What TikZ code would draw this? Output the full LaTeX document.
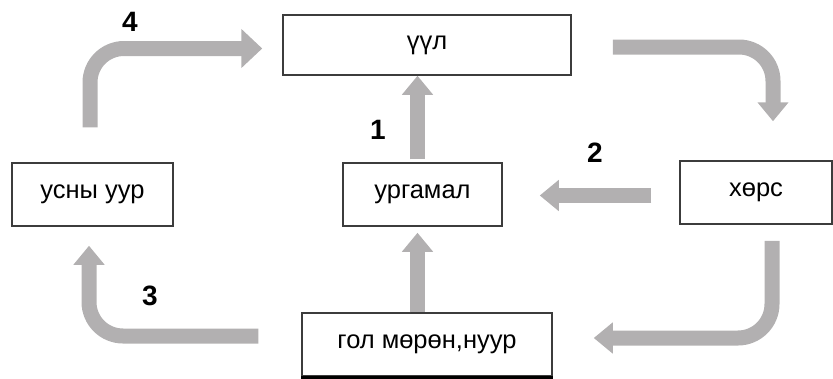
\documentclass[tikz,border=0pt]{standalone}
\usepackage{fontspec}
\setmainfont{Liberation Sans}
\usetikzlibrary{arrows.meta,calc}
\definecolor{arrgray}{RGB}{178,176,177}
\definecolor{boxline}{RGB}{60,60,60}
\begin{document}
\begin{tikzpicture}[x=1pt,y=-1pt,
  box/.style={draw=boxline,line width=1.5pt,fill=white,inner sep=0pt,
    font=\fontsize{25.5}{30}\selectfont},
  arr/.style={draw=arrgray,line width=15pt,rounded corners=34pt,
    -{Triangle[length=19pt,width=30pt]}},
  num/.style={font=\fontsize{28}{32}\selectfont\bfseries,inner sep=0pt}]
\useasboundingbox (0,0) rectangle (833,378);
\node[box,minimum width=288pt,minimum height=60pt] (cloud) at (427,45) {үүл};
\node[box,minimum width=161pt,minimum height=63pt] (vapor) at (92.5,194.5) {усны уур};
\node[box,minimum width=159pt,minimum height=63pt] (plant) at (422.5,194.5) {ургамал};
\node[box,minimum width=152pt,minimum height=63pt] (soil) at (756,192.5) {хөрс};
\node[box,minimum width=250pt,minimum height=63pt] (river) at (427,344.5) {гол мөрөн,нуур};
\draw[black,line width=3pt] ([yshift=-0.5pt]river.south west) -- ([yshift=-0.5pt]river.south east);
% arrows
\draw[arr,-{Triangle[length=21pt,width=38pt]}] ([xshift=-2.5pt,yshift=35pt]vapor.north) |- ([xshift=-20pt,yshift=-3.5pt]cloud.west);
\draw[arr] ([xshift=-5pt,yshift=3pt]plant.north) -- ([xshift=-5pt]plant.north |- cloud.south);
\draw[arr] ([xshift=41pt,yshift=-2pt]cloud.east) -| ([xshift=17pt,yshift=39pt]soil.north);
\draw[arr] ([xshift=-28pt,yshift=-3pt]soil.west) -- ([xshift=37pt,yshift=-3pt]soil.west -| plant.east);
\draw[arr] ([xshift=16pt,yshift=-16pt]soil.south) |- ([xshift=41pt,yshift=6.5pt]river.east);
\draw[arr] ([xshift=-43pt,yshift=8.5pt]river.west) -| ([xshift=-3.5pt,yshift=-19pt]vapor.south);
\draw[arr] ([xshift=-9.5pt]river.north) -- ([xshift=-9.5pt,yshift=-6pt]river.north |- plant.south);
% labels
\node[num] (n4) at (130,22) {4};
\node[num] (n1) at (378,130) {1};
\node[num] (n2) at (595,153) {2};
\node[num] (n3) at (150,296) {3};
\end{tikzpicture}
\end{document}
